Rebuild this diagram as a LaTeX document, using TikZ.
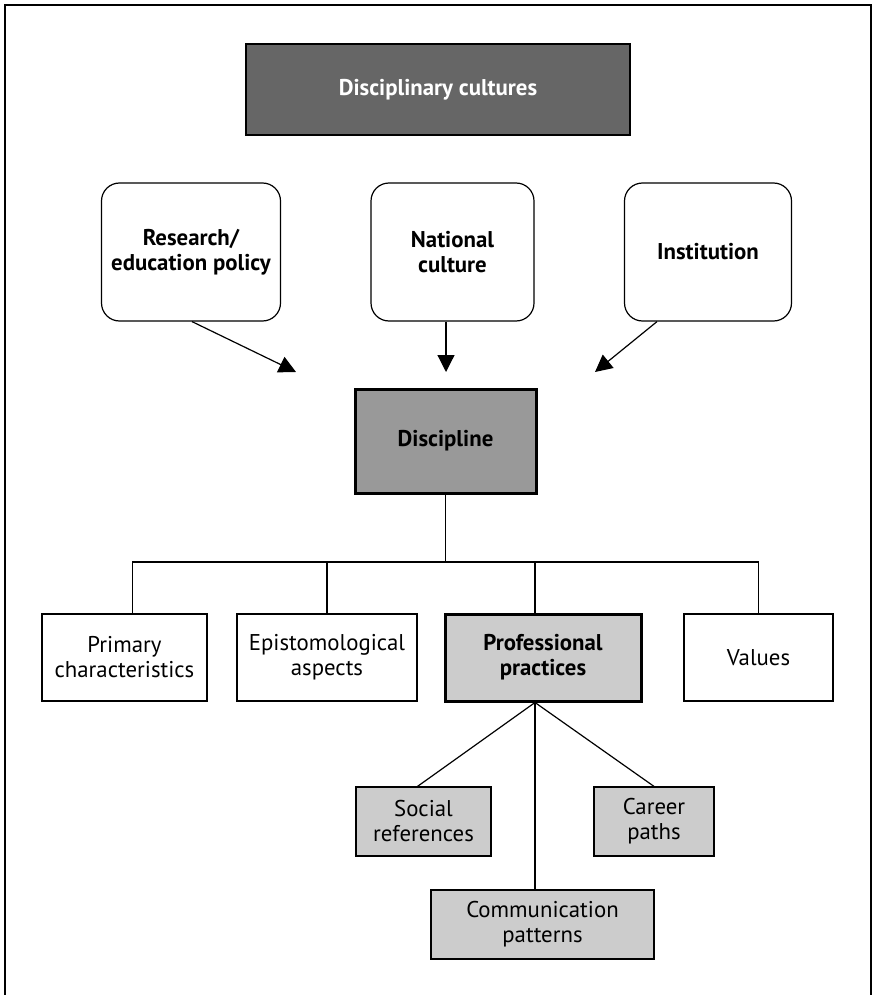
\documentclass[tikz,border=0pt]{standalone}
\usepackage{fontspec}
\setmainfont{PT Sans}
\usetikzlibrary{arrows.meta,calc}
\begin{document}
\begin{tikzpicture}[x=1pt,y=-1pt,
  box/.style={draw=black,line width=1.2pt,inner sep=0pt,align=center,
    font=\fontsize{22.8}{25}\selectfont},
  topbox/.style={box,fill=black!60,text=white,font=\fontsize{22.8}{25}\selectfont\bfseries},
  roundbox/.style={box,rounded corners=18pt,font=\fontsize{22.8}{25}\selectfont\bfseries},
  discbox/.style={box,fill=black!40,line width=3pt,font=\fontsize{22.8}{25}\selectfont\bfseries},
  profbox/.style={box,fill=black!20,line width=3pt,font=\fontsize{22.8}{25}\selectfont\bfseries},
  subbox/.style={box,fill=black!20},
  conn/.style={line width=1.2pt},
  arr/.style={line width=1.2pt,-{Triangle[length=17pt,width=17pt]}}
]
\useasboundingbox (0,0) rectangle (873,995);
\draw[line width=2.2pt] (5,995) -- (5,5) -- (871,5) -- (871,995);

\node[topbox,minimum width=384pt,minimum height=91pt] (dc) at (438,89.5) {Disciplinary cultures};

\node[roundbox,minimum width=179pt,minimum height=138pt] (rp) at (191,252) {Research/\\education policy};
\node[roundbox,minimum width=163pt,minimum height=138pt] (nc) at (452.5,252) {National\\culture};
\node[roundbox,minimum width=167pt,minimum height=138pt] (inst) at (708,252) {Institution};

\node[discbox,minimum width=181pt,minimum height=104pt] (disc) at (445.5,441) {Discipline};

\node[box,minimum width=165pt,minimum height=87pt] (prim) at (124.5,657.5) {Primary\\characteristics};
\node[box,minimum width=180pt,minimum height=87pt] (epi) at (327,657.5) {Epistomological\\aspects};
\node[profbox,minimum width=196pt,minimum height=87pt] (prof) at (543,657.5) {Professional\\practices};
\node[box,minimum width=149pt,minimum height=87pt] (val) at (758.5,657.5) {Values};

\node[subbox,minimum width=135pt,minimum height=69pt] (soc) at (423.5,821.5) {Social\\references};
\node[subbox,minimum width=120pt,minimum height=69pt] (car) at (654,821.5) {Career\\paths};
\node[subbox,minimum width=223pt,minimum height=69pt] (com) at (542.5,924.5) {Communication\\patterns};

% arrows into Discipline
\coordinate (t1) at (296,372);
\coordinate (t2) at (446,372);
\coordinate (t3) at (595,372);
\coordinate (s3) at (657,321);
\draw[arr] ([xshift=1pt]rp.south) -- (t1);
\draw[arr] (nc.south -| t2) -- (t2);
\draw[arr] (inst.south -| s3) -- (t3);

% tree
\coordinate (bar) at (445.5,562);
\draw[conn] (disc.south) -- (bar);
\draw[conn] ([xshift=8pt]prim.north) |- (bar) -| (val.north);
\draw[conn] (epi.north) -- (epi.north |- bar);
\draw[conn] ([xshift=-8pt]prof.north) -- ([xshift=-8pt]prof.north |- bar);

\coordinate (ps) at ([xshift=-8pt]prof.south);
\draw[conn] (ps) -- ([xshift=-6pt]soc.north);
\draw[conn] (ps) -- (car.north);
\draw[conn] (ps) -- (ps |- com.north);
\end{tikzpicture}
\end{document}
